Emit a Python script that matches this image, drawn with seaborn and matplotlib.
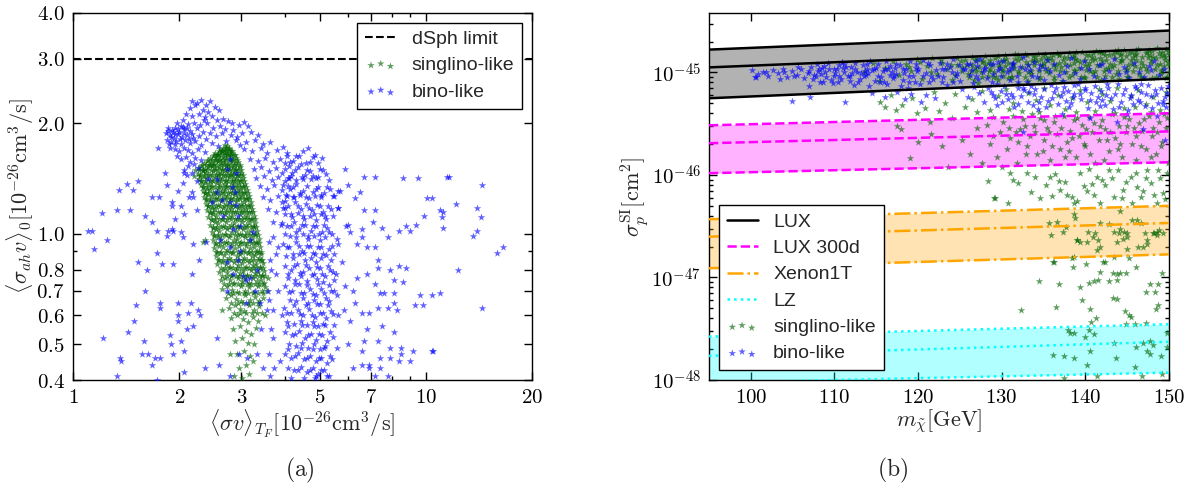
import numpy as np
import matplotlib
matplotlib.use("Agg")
import matplotlib.pyplot as plt
import seaborn as sns
from matplotlib.ticker import FixedLocator, FuncFormatter, LogLocator, NullFormatter

# ---------------- panel (a): <sigma v>_TF and <sigma_ah v>_0 in 1e-26 cm^3/s ----------------
dsph_limit = 3.0

singlino_a = [
    (2.69,1.75),(2.73,1.735),(2.76,1.72),(2.71,1.72),
    (2.61,1.70),(2.66,1.71),(2.70,1.69),(2.77,1.70),(2.81,1.685),(2.64,1.68),
    (2.53,1.66),(2.58,1.65),(2.63,1.67),(2.69,1.66),(2.74,1.65),(2.80,1.665),(2.86,1.645),(2.56,1.64),
    (2.45,1.61),(2.49,1.63),(2.55,1.62),(2.61,1.60),(2.66,1.62),(2.72,1.61),(2.78,1.63),(2.83,1.60),(2.89,1.61),(2.52,1.59),
    (2.35,1.56),(2.40,1.58),(2.46,1.57),(2.51,1.55),(2.57,1.58),(2.62,1.56),(2.68,1.57),(2.75,1.55),(2.80,1.58),(2.87,1.56),(2.93,1.57),(2.43,1.545),
    (2.27,1.51),(2.31,1.53),(2.37,1.50),(2.42,1.52),(2.48,1.53),(2.53,1.51),(2.60,1.52),(2.65,1.50),(2.71,1.53),(2.77,1.51),(2.84,1.52),(2.90,1.50),(2.97,1.52),(2.34,1.49),
    (2.26,1.46),(2.33,1.48),(2.38,1.47),(2.45,1.45),(2.50,1.48),(2.57,1.46),(2.62,1.47),(2.69,1.45),(2.74,1.48),(2.81,1.46),(2.86,1.47),(2.94,1.45),(3.00,1.47),(2.29,1.44),
    (2.28,1.41),(2.35,1.43),(2.40,1.42),(2.47,1.40),(2.52,1.43),(2.59,1.41),(2.65,1.42),(2.72,1.40),(2.77,1.43),(2.85,1.41),(2.90,1.42),(2.98,1.40),(3.04,1.42),(2.31,1.39),
    (2.30,1.36),(2.37,1.38),(2.43,1.37),(2.48,1.35),(2.56,1.38),(2.61,1.36),(2.69,1.37),(2.74,1.35),(2.82,1.38),(2.88,1.36),(2.95,1.37),(3.03,1.35),(3.08,1.37),(2.34,1.34),
    (2.33,1.31),(2.40,1.33),(2.45,1.32),(2.52,1.30),(2.57,1.33),(2.65,1.31),(2.70,1.32),(2.78,1.30),(2.84,1.33),(2.92,1.31),(2.98,1.32),(3.06,1.30),(3.12,1.32),(2.37,1.29),
    (2.35,1.26),(2.42,1.28),(2.47,1.27),(2.55,1.25),(2.60,1.28),(2.68,1.26),(2.73,1.27),(2.81,1.25),(2.87,1.28),(2.95,1.26),(3.01,1.27),(3.10,1.25),(3.15,1.27),(2.39,1.24),
    (2.38,1.21),(2.45,1.23),(2.50,1.22),(2.58,1.20),(2.63,1.23),(2.71,1.21),(2.76,1.22),(2.85,1.20),(2.90,1.23),(2.99,1.21),(3.05,1.22),(3.13,1.20),(3.19,1.22),(2.42,1.19),
    (2.40,1.16),(2.48,1.18),(2.53,1.17),(2.61,1.15),(2.66,1.18),(2.74,1.16),(2.80,1.17),(2.88,1.15),(2.94,1.18),(3.02,1.16),(3.09,1.17),(3.16,1.15),(3.22,1.17),(2.44,1.14),
    (2.42,1.11),(2.50,1.13),(2.55,1.12),(2.64,1.10),(2.69,1.13),(2.77,1.11),(2.83,1.12),(2.91,1.10),(2.97,1.13),(3.06,1.11),(3.12,1.12),(3.20,1.10),(3.26,1.12),(2.47,1.09),
    (2.45,1.06),(2.52,1.08),(2.58,1.07),(2.66,1.05),(2.72,1.08),(2.80,1.06),(2.86,1.07),(2.94,1.05),(3.01,1.08),(3.09,1.06),(3.15,1.07),(3.23,1.05),(3.29,1.07),(2.49,1.04),
    (2.47,1.01),(2.55,1.03),(2.60,1.02),(2.69,1.00),(2.74,1.03),(2.83,1.01),(2.89,1.02),(2.97,1.00),(3.04,1.03),(3.12,1.01),(3.19,1.02),(3.27,1.00),(3.33,1.02),(2.51,0.99),
    (2.49,0.96),(2.57,0.98),(2.63,0.97),(2.71,0.95),(2.77,0.98),(2.86,0.96),(2.92,0.97),(3.00,0.95),(3.07,0.98),(3.15,0.96),(3.22,0.97),(3.30,0.95),(3.36,0.97),(2.53,0.94),
    (2.51,0.915),(2.59,0.93),(2.66,0.92),(2.73,0.905),(2.80,0.93),(2.88,0.915),(2.95,0.925),(3.03,0.905),(3.10,0.93),(3.18,0.915),(3.25,0.92),(3.33,0.90),(3.39,0.92),(2.55,0.895),
    (2.54,0.87),(2.61,0.885),(2.68,0.875),(2.76,0.86),(2.83,0.885),(2.91,0.87),(2.98,0.88),(3.06,0.86),(3.13,0.885),(3.21,0.87),(3.28,0.875),(3.36,0.86),(3.42,0.88),(2.58,0.85),
    (2.56,0.83),(2.64,0.84),(2.71,0.83),(2.79,0.815),(2.86,0.84),(2.94,0.825),(3.01,0.835),(3.09,0.815),(3.16,0.84),(3.24,0.825),(3.31,0.83),(3.39,0.815),(3.45,0.835),
    (2.59,0.79),(2.67,0.80),(2.74,0.79),(2.82,0.775),(2.89,0.80),(2.97,0.785),(3.04,0.795),(3.12,0.775),(3.19,0.80),(3.27,0.785),(3.35,0.79),(3.43,0.775),(3.48,0.795),
    (2.62,0.75),(2.70,0.76),(2.78,0.75),(2.86,0.735),(2.93,0.76),(3.01,0.745),(3.08,0.755),(3.16,0.735),(3.24,0.76),(3.32,0.745),(3.40,0.75),(3.48,0.735),
    (2.65,0.71),(2.74,0.72),(2.83,0.705),(2.91,0.695),(2.99,0.72),(3.08,0.70),(3.16,0.715),(3.25,0.695),(3.34,0.72),(3.43,0.70),(3.51,0.715),
    (2.71,0.67),(2.81,0.68),(2.90,0.665),(2.99,0.655),(3.08,0.68),(3.18,0.66),(3.27,0.675),(3.37,0.655),(3.46,0.67),
    (2.76,0.63),(2.87,0.64),(2.97,0.625),(3.06,0.615),(3.16,0.64),(3.26,0.62),(3.37,0.635),(3.44,0.61),
    (2.80,0.59),(2.92,0.60),(3.03,0.585),(3.13,0.575),(3.24,0.595),(3.35,0.58),
    (2.84,0.55),(2.97,0.56),(3.09,0.545),(3.20,0.535),(3.31,0.555),
    (2.88,0.51),(3.01,0.52),(3.13,0.505),(3.26,0.50),
    (2.92,0.47),(3.05,0.48),(3.17,0.465),(3.23,0.45),
    (2.96,0.43),(3.09,0.44),(3.15,0.415),(3.01,0.405),
    (2.37,0.96),(2.33,0.95),(2.22,1.49),(2.20,1.44),(3.55,0.70),(3.57,0.76),(2.64,0.62),(3.50,0.60),(2.79,0.47),(2.86,0.41),
]

# dense core of the singlino cloud, one entry per level of <sigma_ah v>_0
singlino_a_core = [
    (1.68, [2.59, 2.65, 2.71, 2.77, 2.82]),
    (1.64, [2.51, 2.57, 2.63, 2.69, 2.75, 2.81, 2.87]),
    (1.595, [2.42, 2.48, 2.54, 2.60, 2.66, 2.72, 2.78, 2.84, 2.91]),
    (1.545, [2.32, 2.38, 2.44, 2.50, 2.56, 2.62, 2.68, 2.74, 2.80, 2.86, 2.92, 2.97]),
    (1.495, [2.28, 2.34, 2.40, 2.46, 2.52, 2.58, 2.64, 2.70, 2.76, 2.82, 2.88, 2.94, 3.00]),
    (1.445, [2.29, 2.35, 2.42, 2.48, 2.54, 2.60, 2.66, 2.73, 2.79, 2.85, 2.91, 2.97, 3.03]),
    (1.395, [2.31, 2.37, 2.44, 2.50, 2.56, 2.63, 2.69, 2.75, 2.82, 2.88, 2.94, 3.00, 3.06]),
    (1.345, [2.33, 2.40, 2.46, 2.53, 2.59, 2.66, 2.72, 2.79, 2.85, 2.92, 2.98, 3.04, 3.09]),
    (1.295, [2.36, 2.42, 2.49, 2.55, 2.62, 2.68, 2.75, 2.82, 2.88, 2.95, 3.01, 3.08, 3.13]),
    (1.245, [2.39, 2.45, 2.52, 2.58, 2.65, 2.72, 2.78, 2.85, 2.92, 2.98, 3.05, 3.11, 3.16]),
    (1.195, [2.41, 2.48, 2.54, 2.61, 2.68, 2.75, 2.81, 2.88, 2.95, 3.02, 3.08, 3.15, 3.20]),
    (1.145, [2.44, 2.50, 2.57, 2.64, 2.71, 2.78, 2.85, 2.92, 2.99, 3.05, 3.12, 3.19, 3.24]),
    (1.095, [2.46, 2.53, 2.60, 2.67, 2.74, 2.81, 2.88, 2.95, 3.02, 3.09, 3.16, 3.22, 3.27]),
    (1.045, [2.49, 2.56, 2.63, 2.70, 2.77, 2.84, 2.91, 2.98, 3.05, 3.12, 3.19, 3.26, 3.31]),
    (0.995, [2.51, 2.58, 2.65, 2.72, 2.79, 2.87, 2.94, 3.01, 3.08, 3.15, 3.22, 3.29, 3.34]),
    (0.945, [2.54, 2.61, 2.68, 2.75, 2.83, 2.90, 2.97, 3.05, 3.12, 3.19, 3.26, 3.33, 3.37]),
    (0.895, [2.56, 2.63, 2.71, 2.78, 2.85, 2.93, 3.00, 3.08, 3.15, 3.22, 3.30, 3.37, 3.41]),
    (0.85, [2.59, 2.66, 2.74, 2.81, 2.89, 2.96, 3.04, 3.11, 3.19, 3.26, 3.34, 3.41, 3.44]),
    (0.81, [2.62, 2.70, 2.77, 2.85, 2.92, 3.00, 3.08, 3.15, 3.23, 3.31, 3.38, 3.46]),
    (0.77, [2.65, 2.73, 2.81, 2.89, 2.96, 3.04, 3.12, 3.20, 3.28, 3.36, 3.44, 3.49]),
    (0.73, [2.68, 2.77, 2.85, 2.94, 3.02, 3.11, 3.20, 3.29, 3.37, 3.46]),
    (0.69, [2.75, 2.85, 2.95, 3.05, 3.14, 3.24, 3.35, 3.45]),
    (0.65, [2.81, 2.93, 3.03, 3.13, 3.23, 3.34]),
    (0.61, [2.86, 2.98, 3.10, 3.22, 3.32]),
]

bino_a_cluster = [
    (2.18,2.31),(2.25,2.28),(2.30,2.32),(2.45,2.30),(2.38,2.24),(2.21,2.24),(2.14,2.20),(2.52,2.22),(2.60,2.17),(2.33,2.18),
    (2.42,2.15),(2.09,2.12),(2.27,2.12),(2.17,2.10),(2.05,2.05),(2.36,2.08),(2.48,2.10),(2.56,2.04),(2.66,2.06),(2.75,2.03),
    (2.82,2.00),(2.95,1.98),(3.05,2.02),(3.14,1.97),(1.97,2.00),(2.02,1.97),(2.12,1.99),(2.20,2.01),(2.29,1.98),(2.40,2.00),
    (2.50,1.95),(2.61,1.97),(2.70,1.93),(1.86,1.94),(1.91,1.92),(1.95,1.95),(2.00,1.90),(2.07,1.93),(2.15,1.91),(2.24,1.94),
    (2.33,1.90),(2.45,1.88),(2.55,1.85),(2.64,1.88),(2.80,1.86),(2.92,1.84),(1.83,1.88),(1.88,1.86),(1.93,1.83),(1.98,1.87),
    (2.04,1.84),(2.10,1.86),(2.19,1.83),(2.28,1.85),(2.38,1.81),(1.85,1.80),(1.90,1.78),(1.96,1.79),(2.02,1.76),(2.08,1.80),
    (2.14,1.77),(2.22,1.79),(2.31,1.75),(2.47,1.77),(2.58,1.74),(2.72,1.79),(2.98,1.75),(1.88,1.72),(1.94,1.70),(2.00,1.68),
    (2.06,1.72),(2.12,1.69),(2.18,1.66),(2.26,1.70),(2.36,1.67),(1.97,1.63),(2.03,1.60),(2.09,1.62),(2.15,1.57),(2.21,1.61),
    (2.30,1.59),(2.12,1.53),(2.20,1.55),(2.26,1.51),(2.07,1.49),(2.17,1.47),(1.87,1.76),(1.92,1.89),(2.05,1.96),(2.35,2.04),
    (1.89,1.84),(1.95,1.87),(2.01,1.82),(2.07,1.88),(2.13,1.82),(1.86,1.91),(1.99,1.93),(2.10,1.95),(2.17,1.87),(1.94,1.76),
]

bino_a_arm = [
    (2.85,1.92),(3.02,1.88),(3.20,1.90),(3.35,1.86),(2.90,1.80),(3.10,1.78),(3.28,1.80),(3.45,1.76),(3.62,1.78),(3.05,1.70),
    (3.22,1.68),(3.40,1.71),(3.55,1.66),(3.78,1.69),(3.95,1.73),(3.18,1.60),(3.34,1.58),(3.50,1.61),(3.68,1.57),(3.85,1.60),
    (4.05,1.63),(3.25,1.50),(3.42,1.52),(3.60,1.48),(3.75,1.51),(3.92,1.47),(4.10,1.53),(3.30,1.42),(3.48,1.44),(3.66,1.40),
    (3.82,1.43),(3.98,1.39),(4.15,1.44),(3.38,1.35),(3.55,1.33),(3.72,1.36),(3.90,1.32),(4.08,1.35),(3.45,1.26),(3.62,1.24),
    (3.80,1.27),(3.98,1.23),(4.20,1.26),(3.58,1.17),(3.75,1.15),(3.93,1.18),(3.70,1.08),(3.88,1.06),(3.68,0.98),(3.82,0.92),
    (3.62,0.85),(3.75,0.78),(3.58,0.70),(3.70,0.62),(3.65,0.55),(3.60,0.47),(3.72,0.43),(3.60,0.95),(3.75,0.88),(3.55,0.62),
    (3.70,0.52),(3.85,0.45),(3.62,0.41),(3.80,0.70),(3.90,0.60),(3.65,0.80),(3.32,0.47),(3.45,0.43),(3.40,0.55),(3.60,0.66),
]

bino_a_dense = [
    (4.05,1.66),(4.30,1.63),(4.50,1.68),(4.65,1.71),(4.85,1.64),(5.07,1.61),(4.20,1.58),(4.42,1.55),(4.70,1.57),(4.95,1.56),(3.98,1.56),
    (4.00,1.50),(4.18,1.47),(4.35,1.52),(4.55,1.45),(4.62,1.49),(4.80,1.44),(5.00,1.50),(5.20,1.46),(4.10,1.42),(4.28,1.40),(4.45,1.43),(4.72,1.41),(4.90,1.42),(5.30,1.40),
    (3.95,1.36),(4.12,1.33),(4.30,1.37),(4.48,1.31),(4.60,1.35),(4.78,1.30),(4.95,1.34),(5.15,1.29),(5.35,1.33),(5.65,1.31),(4.05,1.27),(4.22,1.26),(4.40,1.28),(4.66,1.25),(4.85,1.27),(5.05,1.26),(5.50,1.27),
    (3.92,1.22),(4.08,1.19),(4.25,1.22),(4.42,1.17),(4.58,1.21),(4.75,1.16),(4.92,1.20),(5.10,1.15),(5.28,1.19),(5.62,1.18),(4.00,1.13),(4.18,1.11),(4.35,1.14),(4.52,1.10),(4.70,1.12),(4.88,1.09),(5.05,1.13),(5.22,1.10),(5.45,1.12),
    (3.90,1.07),(4.05,1.05),(4.22,1.08),(4.38,1.03),(4.55,1.06),(4.72,1.02),(4.90,1.05),(5.08,1.01),(5.25,1.04),(5.42,1.00),(5.95,1.05),(4.12,0.99),(4.30,0.98),(4.48,1.00),(4.65,0.97),(4.82,0.99),(5.00,0.96),(5.18,0.98),(5.60,0.97),
    (3.95,0.94),(4.10,0.92),(4.28,0.95),(4.45,0.90),(4.60,0.93),(4.78,0.89),(4.95,0.92),(5.12,0.88),(5.30,0.91),(5.50,0.88),(5.65,0.94),(4.02,0.87),(4.20,0.86),(4.38,0.88),(4.55,0.85),(4.72,0.86),(4.88,0.84),(5.05,0.86),(5.40,0.85),
    (3.98,0.82),(4.15,0.80),(4.32,0.83),(4.50,0.79),(4.66,0.81),(4.83,0.78),(5.00,0.81),(5.18,0.77),(5.35,0.80),(5.55,0.78),(4.08,0.76),(4.25,0.75),(4.42,0.77),(4.60,0.745),(4.92,0.755),(5.10,0.74),(5.48,0.75),
    (4.00,0.72),(4.18,0.70),(4.36,0.73),(4.53,0.69),(4.70,0.71),(4.87,0.68),(5.05,0.71),(5.22,0.67),(5.40,0.70),(5.60,0.68),(4.12,0.66),(4.30,0.655),(4.48,0.67),(4.65,0.65),(4.82,0.66),(5.00,0.645),(5.30,0.655),
    (3.96,0.63),(4.14,0.61),(4.33,0.62),(4.50,0.60),(4.68,0.625),(4.85,0.595),(5.02,0.61),(5.20,0.59),(5.38,0.615),(5.62,0.60),(4.05,0.575),(4.24,0.57),(4.42,0.58),(4.60,0.565),(4.78,0.575),(4.95,0.56),(5.12,0.57),(5.50,0.565),
    (4.00,0.54),(4.18,0.53),(4.36,0.545),(4.55,0.52),(4.72,0.535),(4.90,0.515),(5.08,0.53),(5.26,0.51),(5.45,0.525),(4.10,0.50),(4.28,0.495),(4.46,0.505),(4.64,0.49),(4.82,0.50),(5.00,0.485),(5.18,0.495),(5.60,0.49),
    (3.98,0.47),(4.15,0.46),(4.33,0.475),(4.52,0.455),(4.70,0.465),(4.88,0.45),(5.05,0.46),(5.24,0.445),(5.42,0.455),(4.06,0.43),(4.24,0.425),(4.42,0.435),(4.60,0.42),(4.78,0.43),(4.96,0.415),(5.14,0.425),(5.33,0.41),(4.85,0.405),
    (4.12,1.57),(4.38,1.63),(4.58,1.56),(4.80,1.62),
    (4.08,1.42),(4.26,1.49),(4.48,1.41),(4.70,1.48),(4.95,1.43),(5.12,1.49),
    (4.02,1.28),(4.21,1.34),(4.40,1.29),(4.57,1.26),(4.88,1.33),(5.05,1.28),(5.25,1.34),(5.45,1.27),
    (3.98,1.18),(4.16,1.13),(4.33,1.19),(4.50,1.12),(4.66,1.18),(4.83,1.13),(5.00,1.19),(5.18,1.12),(5.38,1.17),
    (3.98,1.00),(4.14,1.05),(4.30,1.01),(4.46,1.06),(4.63,0.99),(4.80,1.05),(4.97,1.00),(5.15,1.06),(5.33,1.01),
    (4.04,0.92),(4.19,0.88),(4.36,0.93),(4.52,0.89),(4.69,0.925),(4.86,0.88),(5.03,0.92),(5.21,0.875),(5.42,0.93),
    (4.06,0.78),(4.24,0.82),(4.41,0.785),(4.58,0.825),(4.75,0.775),(4.92,0.815),(5.09,0.78),(5.27,0.82),(5.45,0.79),
    (4.09,0.695),(4.27,0.73),(4.44,0.69),(4.61,0.725),(4.78,0.685),(4.95,0.73),(5.13,0.69),(5.31,0.725),(5.50,0.70),
    (4.05,0.61),(4.23,0.64),(4.41,0.605),(4.59,0.64),(4.76,0.60),(4.93,0.645),(5.11,0.61),(5.29,0.64),(5.47,0.605),
    (4.08,0.56),(4.26,0.535),(4.45,0.565),(4.63,0.53),(4.81,0.56),(4.99,0.535),(5.17,0.565),(5.36,0.54),
    (4.07,0.485),(4.25,0.465),(4.43,0.49),(4.61,0.46),(4.79,0.485),(4.97,0.46),(5.15,0.49),(5.34,0.465),
    (4.15,0.405),(4.33,0.425),(4.51,0.405),(4.69,0.425),(4.87,0.41),(5.05,0.425),(5.24,0.41),
]

bino_a_right = [
    (6.7,1.43),(8.6,1.42),(11.6,1.43),(14.4,1.36),(10.1,1.25),(12.2,1.21),(14.0,1.18),(11.2,1.15),(14.3,1.11),(14.0,1.02),
    (13.6,0.99),(11.2,1.04),(8.8,1.05),(8.4,1.02),(7.1,1.08),(6.5,1.30),(6.7,1.16),(6.6,1.03),(16.5,0.92),(15.9,0.89),
    (12.3,0.80),(11.0,0.69),(14.4,0.63),(9.6,0.68),(9.3,0.64),(10.4,0.48),(8.5,0.47),(8.4,0.45),(8.4,0.82),(8.1,0.75),
    (7.6,0.69),(7.3,0.63),(7.2,0.92),(7.3,0.81),(7.9,0.49),(7.4,0.46),(7.2,0.41),(6.9,0.43),(6.6,0.44),(6.6,0.98),
    (5.7,1.31),(5.65,1.18),(6.0,1.06),(6.1,1.01),(6.4,0.94),(6.8,0.92),(7.2,1.16),(7.5,1.04),(7.8,0.98),(7.3,0.85),
    (7.9,0.80),(6.8,0.78),(6.4,0.76),(6.2,0.70),(7.2,0.73),(7.4,0.69),(8.1,0.69),(8.3,0.62),(7.8,0.63),(6.9,0.61),
    (6.6,0.61),(6.3,0.65),(6.1,0.58),(6.8,0.55),(7.5,0.56),(8.1,0.54),(6.7,0.51),(7.3,0.51),(6.6,0.48),(7.9,0.46),
    (6.9,0.44),(7.4,0.43),(7.8,0.41),(8.5,0.49),(9.0,0.45),(9.2,0.48),(8.6,0.74),(8.8,0.81),(8.1,0.65),(9.0,1.02),
    (9.4,1.06),(9.5,1.42),(7.2,1.43),(10.4,1.25),(9.9,1.12),(11.0,1.16),(11.1,1.11),(11.5,1.43),(9.8,0.64),(10.4,0.68),
    (10.5,0.48),(6.0,1.36),(5.9,1.50),(6.3,1.25),(5.8,0.84),(5.9,0.72),(6.0,0.50),(5.85,0.62),(6.2,0.43),
]

bino_a_left = [
    (1.13,1.02),(1.15,0.91),(1.25,0.96),(1.53,0.84),(1.62,0.80),(1.73,0.89),(1.79,0.83),(1.92,0.83),(1.85,0.99),(1.92,1.02),
    (2.05,0.98),(2.19,0.94),(2.17,0.78),(2.28,0.85),(1.60,0.70),(1.51,0.64),(1.49,0.58),(1.43,0.54),(1.22,0.52),(1.36,0.46),
    (1.37,0.45),(1.33,0.41),(1.59,0.51),(1.57,0.47),(1.63,0.47),(1.71,0.46),(1.67,0.44),(1.77,0.65),(1.77,0.63),(1.99,0.65),
    (1.99,0.60),(1.98,0.58),(2.12,0.61),(2.16,0.65),(2.26,0.62),(2.29,0.60),(2.19,0.56),(2.10,0.55),(1.88,0.53),(1.89,0.50),
    (2.02,0.51),(2.06,0.48),(1.92,0.47),(1.76,0.46),(2.06,0.42),(1.73,0.40),(2.37,0.43),(2.60,0.44),(2.79,0.41),(2.95,0.47),
    (3.12,0.46),(2.56,0.52),(2.38,0.95),(1.35,1.32),(1.42,1.37),(1.48,1.32),(1.53,1.39),(1.68,1.26),(1.75,1.26),(1.82,1.47),
    (1.60,1.12),(1.45,1.16),(1.33,1.16),(1.21,1.14),(1.91,1.22),(1.95,1.10),(2.07,1.13),(2.03,1.01),(1.91,1.03),(1.73,1.02),
    (1.68,1.08),(2.10,1.45),(2.06,1.47),(2.25,1.39),(2.18,1.30),(2.25,1.16),(1.74,1.72),(1.10,1.02),(1.85,1.36),(1.98,1.31),
    (1.91,1.19),(2.03,1.19),(2.13,1.26),(2.05,1.38),(2.19,1.26),(1.86,1.02),
]

bino_a_over = [
    (2.56,1.41),(2.73,1.50),(2.87,1.30),(2.64,1.24),(2.90,1.20),(2.47,1.22),(2.84,1.03),(2.97,1.05),(3.17,0.96),(2.79,0.92),
    (2.61,0.96),(2.93,0.85),(2.73,0.84),(3.17,0.76),(3.28,0.70),(3.10,0.75),(2.84,0.78),(3.39,0.65),(2.97,0.90),(2.82,1.34),
    (2.93,1.12),(2.66,1.12),(3.24,1.01),(2.56,1.30),(2.79,1.22),(2.41,1.41),(3.03,0.77),(3.32,0.80),(2.73,0.70),(3.10,0.65),
    (2.90,1.47),(2.79,1.60),
]

# ---------------- panel (b): m_chi [GeV] and sigma_p^SI in units of 1e-46 cm^2 ----------------
SIGMA_UNIT = 1e-46
band_mass = [95, 150]
lux_low, lux_mid, lux_high = [5.6, 8.7], [11.2, 17.1], [16.7, 25.6]
lux300_low, lux300_mid, lux300_high = [1.04, 1.33], [2.04, 2.66], [3.05, 4.0]
xenon_low, xenon_mid, xenon_high = [0.123, 0.168], [0.25, 0.34], [0.37, 0.50]
lz_low, lz_mid, lz_high = [0.0094, 0.0118], [0.0172, 0.0236], [0.0265, 0.035]

bino_b = [
    (100.2,10.5),(100.9,9.6),(101.5,10.2),(102.1,9.3),(102.6,10.6),(103.2,9.8),(103.8,10.9),(104.3,9.1),(104.9,10.3),(105.5,9.5),
    (106.0,10.8),(106.4,8.8),(100.6,9.0),(103.5,8.6),(100.5,9.1),(104.9,5.3),(107.1,5.7),(111.3,5.2),
    (107.2,11.2),(107.6,9.4),(108.0,10.3),(108.3,8.1),(108.7,11.6),(109.0,9.0),(109.4,10.7),(109.8,7.9),(110.1,9.8),(110.5,11.9),
    (110.8,8.6),(111.2,10.2),(111.6,9.2),(112.0,11.4),(112.3,7.6),(112.7,10.0),(113.0,8.7),(113.4,11.8),(113.8,9.5),(114.1,7.4),
    (114.5,10.6),(114.8,8.2),(115.2,12.0),(115.6,9.1),(116.0,10.9),(116.3,7.8),(116.7,11.5),(117.0,8.9),(107.9,12.1),(109.2,12.4),
    (110.9,12.6),(112.5,12.5),(114.3,12.9),(116.2,12.8),(108.4,9.7),(110.3,10.8),(111.9,8.3),(113.6,10.4),(115.4,8.0),(116.9,10.1),
    (107.4,8.6),(109.6,8.4),(111.4,11.3),(113.2,9.8),(115.0,11.1),(106.8,9.9),(105.6,11.3),(106.9,7.3),
    (114.5,6.3),(116.0,5.8),(117.5,6.5),(118.4,5.5),(119.2,6.2),(120.3,5.2),(121.0,6.0),(122.0,5.6),(118.8,7.0),
    (117.4,9.6),(117.8,11.9),(118.2,8.4),(118.6,10.7),(119.0,12.8),(119.4,9.2),(119.8,11.1),(120.2,7.8),(120.6,13.1),(121.0,9.9),
    (121.4,11.8),(121.8,8.6),(122.2,10.5),(122.6,12.5),(123.0,9.1),(123.4,7.6),(123.8,11.3),(124.2,13.4),(124.6,9.8),(125.0,8.2),
    (125.4,10.9),(125.8,12.1),(126.2,9.4),(126.6,7.9),(127.0,11.5),(127.4,13.6),(127.8,10.2),(128.2,8.8),(128.6,12.0),(129.0,9.6),
    (129.4,7.7),(129.8,11.0),(130.2,13.0),(130.6,10.0),(131.0,8.5),(131.4,12.4),(131.8,9.3),(132.2,11.4),(132.6,14.0),(133.0,8.1),
    (133.4,10.6),(133.8,12.6),(134.2,9.0),(134.6,11.7),(135.0,8.4),(135.4,13.3),(135.8,10.4),(136.3,12.2),(136.8,9.5),(137.3,8.3),
    (137.8,11.6),(138.3,13.8),(138.8,9.9),(139.3,8.6),(139.8,12.8),(140.4,10.8),(141.0,9.2),(141.6,11.9),(142.2,8.7),(142.8,10.3),
    (143.4,13.5),(144.0,9.6),(144.6,11.2),(145.2,8.9),(145.8,12.4),(146.4,10.1),(147.0,9.0),(147.6,11.5),(148.2,13.0),(148.8,9.4),
    (149.4,10.7),(118.0,7.4),(121.2,12.3),(124.0,10.2),(126.9,12.9),(129.6,12.7),(132.8,10.9),(119.6,8.0),(122.8,8.0),(127.2,8.6),
    (101.8,10.0),(104.0,10.1),(105.2,9.2),(107.0,10.4),(108.9,10.0),(110.6,9.3),(112.1,9.9),(113.9,10.9),(115.8,10.3),(117.2,11.0),
    (118.3,9.9),(119.9,10.4),(121.5,9.3),(123.2,10.7),(124.9,11.8),(126.4,10.6),(128.0,11.1),(129.5,10.5),(131.2,11.0),(133.2,11.8),
    (135.2,11.0),(137.5,10.2),(139.5,11.0),(142.0,12.0),(144.9,10.0),(147.9,10.6),(108.5,11.0),(111.0,11.0),(114.0,9.9),(116.6,9.5),
    (125.3,6.9),(126.0,5.8),(126.7,7.2),(127.3,6.3),(127.9,5.2),(128.4,7.0),(128.9,6.0),(129.4,4.8),(129.9,6.6),(130.3,7.3),
    (130.7,5.5),(131.1,6.2),(131.5,4.6),(131.9,7.1),(132.3,5.9),(132.7,6.8),(133.1,5.1),(133.5,7.4),(133.9,6.1),(134.3,4.4),
    (134.7,5.7),(135.1,6.9),(135.5,5.3),(135.9,7.6),(136.3,6.4),(136.7,4.9),(137.1,5.9),(137.5,7.2),(137.9,6.6),(138.3,5.0),
    (138.7,6.1),(139.1,7.7),(139.5,5.5),(139.9,6.8),(140.3,4.5),(140.7,6.3),(141.1,7.4),(141.5,5.8),(141.9,6.6),(142.3,4.8),
    (142.7,7.0),(143.1,5.6),(143.5,6.2),(143.9,7.8),(144.3,5.2),(144.7,6.9),(145.1,4.3),(145.5,6.0),(145.9,7.3),(146.3,5.4),
    (146.7,6.5),(147.1,4.7),(147.5,7.5),(147.9,5.9),(148.3,6.7),(148.7,5.0),(149.1,7.1),(149.5,5.7),(149.8,6.3),(130.0,5.2),
    (132.0,4.9),(134.0,6.9),(136.0,5.6),(138.0,4.6),(140.0,7.0),(142.0,5.4),(144.0,4.6),(146.0,7.0),(148.0,4.5),(149.6,4.6),
    (131.3,5.8),(133.3,6.4),(135.3,4.6),(137.3,6.4),(139.3,6.2),(141.3,5.1),(143.3,4.4),(145.3,5.6),(147.3,6.1),(149.3,5.3),
    (138.6,7.6),(142.6,7.7),(146.6,7.7),(129.2,5.6),(128.7,6.5),(130.5,6.1),(132.5,7.0),(134.5,5.2),(136.5,7.0),(138.5,5.8),
    (140.5,5.4),(142.5,6.0),(144.5,6.2),(146.5,5.1),(148.5,6.2),(149.9,7.3),(133.7,4.8),(137.7,5.3),(141.7,4.7),(145.7,4.9),
    (149.3,4.9),
    (140.6,3.6),(143.8,3.3),(146.9,2.8),(148.6,3.8),(149.5,2.2),(137.2,3.9),(145.0,3.9),(132.5,2.6),
]

# bino points filling the LUX band, one entry per cross-section level
bino_b_core = [
    (8.0, [108.6, 110.4, 112.8, 115.9, 118.9, 121.3, 124.2, 128.8, 131.9]),
    (9.3, [107.8, 109.9, 111.8, 113.5, 115.2, 117.1, 118.9, 120.6, 122.4, 124.5, 126.9, 129.9, 133.6]),
    (10.8, [108.2, 110.0, 112.4, 114.7, 116.4, 118.2, 120.0, 122.9, 125.6, 127.9, 130.9, 134.4]),
    (12.2, [111.2, 113.9, 117.4, 119.8, 123.4, 126.2, 129.0, 131.2]),
]

singlino_b_top = [
    (113.5,10.2),(114.6,12.4),(115.3,8.3),(116.1,11.0),(117.0,13.0),(117.7,9.4),(118.5,12.0),(119.1,10.3),(119.9,13.5),(120.5,8.7),
    (121.1,11.6),(121.7,13.7),(122.3,9.6),(122.9,12.3),(123.5,10.9),(124.1,8.5),(124.7,13.9),(125.3,11.4),
    (125.6,13.2),(126.0,9.6),(126.4,14.3),(126.8,11.0),(127.2,7.9),(127.6,12.6),(128.0,14.6),(128.4,9.3),(128.8,11.8),(129.2,13.9),
    (129.6,8.5),(130.0,10.6),(130.4,14.8),(130.8,12.3),(131.2,9.1),(131.6,13.4),(132.0,7.8),(132.4,11.2),(132.8,15.0),(133.2,10.1),
    (133.6,12.9),(134.0,14.2),(134.4,8.7),(134.8,11.6),(135.2,15.3),(135.6,9.8),(136.0,13.1),(136.4,10.7),(136.8,14.7),(137.2,8.3),
    (137.6,12.0),(138.0,15.5),(138.4,9.5),(138.8,13.5),(139.2,11.1),(139.6,15.8),(140.0,8.9),(140.4,12.5),(140.8,14.3),(141.2,10.3),
    (141.6,16.0),(142.0,12.9),(142.4,9.2),(142.8,14.9),(143.2,11.4),(143.6,16.2),(144.0,8.6),(144.4,13.3),(144.8,10.6),(145.2,15.4),
    (145.6,12.2),(146.0,16.5),(146.4,9.7),(146.8,14.0),(147.2,11.1),(147.6,16.7),(148.0,8.9),(148.4,13.7),(148.8,15.6),(149.2,10.5),
    (149.6,16.9),(149.9,12.6),
    (125.9,11.9),(126.7,8.4),(127.5,10.2),(128.3,12.4),(129.1,10.0),(129.9,12.8),(130.7,8.8),(131.5,11.0),(132.3,13.8),(133.1,8.3),
    (133.9,11.9),(134.7,13.6),(135.5,10.9),(136.3,8.5),(137.1,11.3),(137.9,13.9),(138.7,10.5),(139.5,9.0),(140.3,11.6),(141.1,13.4),
    (141.9,8.4),(142.7,11.1),(143.5,13.8),(144.3,15.1),(145.1,9.0),(145.9,11.6),(146.7,12.6),(147.5,14.3),(148.3,10.9),(149.1,14.6),
    (149.7,8.8),(127.0,13.5),(129.5,14.4),(131.9,14.9),(134.3,15.1),(136.6,15.6),(138.9,15.9),(141.3,16.2),(143.9,16.6),(146.3,16.9),
    (148.6,17.2),(128.6,10.8),(131.0,10.4),(133.5,9.6),(136.1,11.9),(138.6,12.3),(140.9,9.8),(143.0,12.0),(145.4,13.1),(147.8,12.3),
    (149.4,11.6),(130.1,9.3),(135.0,12.3),(140.1,14.8),(145.0,10.8),(150.0,15.0),
    (118.9,11.4),(120.2,12.6),(121.5,10.1),(122.7,13.2),(123.9,11.7),(124.4,9.4),(125.1,12.8),(126.3,10.4),(127.8,13.0),(128.9,9.0),
    (129.7,11.3),(130.5,13.6),(131.3,12.0),(132.1,9.9),(132.9,12.6),(133.7,14.5),(134.5,10.3),(135.3,13.9),(136.1,14.9),(136.9,12.4),
    (137.7,10.0),(138.5,14.1),(139.3,12.7),(140.1,10.6),(140.9,15.5),(141.7,13.7),(142.5,10.9),(143.3,15.1),(144.1,12.6),(144.9,14.4),
    (145.7,14.2),(146.5,11.0),(147.3,15.6),(148.1,14.0),(148.9,12.0),(149.5,14.0),(150.0,10.0),(131.6,15.2),(135.8,14.1),(139.9,13.2),
    (142.1,15.6),(144.6,16.4),(146.1,15.0),(148.0,16.3),(149.9,16.2),(127.3,11.2),(130.4,11.6),(134.2,12.8),(137.4,14.0),(141.4,11.7),
    (143.7,9.6),(146.9,8.9),(149.0,9.6),
]

# singlino points filling the upper LUX band, one entry per cross-section level
singlino_b_core = [
    (9.0, [126.1, 127.7, 129.3, 131.1, 132.8, 134.6, 136.2, 138.0, 139.8, 141.4, 143.2, 145.0, 146.6, 148.4, 149.8]),
    (10.4, [125.2, 126.9, 128.5, 130.2, 131.9, 133.5, 135.3, 137.0, 138.8, 140.5, 142.2, 143.9, 145.7, 147.4, 149.1]),
    (11.9, [124.6, 126.4, 128.0, 129.7, 131.4, 133.1, 134.8, 136.5, 138.2, 139.9, 141.7, 143.4, 145.1, 146.9, 148.6, 150.0]),
    (13.3, [126.8, 128.6, 130.3, 132.0, 133.8, 135.5, 137.3, 139.0, 140.8, 142.5, 144.3, 146.0, 147.8, 149.5]),
    (14.8, [133.0, 134.9, 136.8, 138.6, 140.4, 142.3, 144.1, 145.9, 147.7, 149.4]),
    (16.0, [141.9, 143.8, 145.6, 147.4, 149.2]),
]

singlino_b_mid = [
    (115.5,5.2),(116.8,6.0),(118.1,4.8),(119.3,5.6),(120.8,4.5),(121.9,6.4),(123.2,5.0),(124.4,6.1),(125.6,4.6),(126.5,5.5),
    (127.6,6.6),(128.6,4.3),(129.5,5.9),(130.5,6.9),(131.4,5.0),(132.4,4.2),(133.2,6.3),(134.1,5.4),(135.0,7.1),(135.8,4.8),
    (136.7,6.0),(137.6,4.4),(138.4,5.6),(139.4,6.7),(140.2,5.1),(141.1,4.2),(142.0,6.1),(142.9,5.3),(143.8,7.0),(144.6,4.5),
    (145.4,5.9),(146.3,6.8),(147.2,4.9),(148.1,5.8),(148.9,4.3),(149.7,6.5),(130.9,4.4),(134.5,4.1),(138.9,4.1),(143.6,4.0),
    (147.8,4.1),(141.6,6.9),(145.9,4.6),(127.0,4.1),(122.5,4.2),(119.9,4.0),(117.3,4.3),(116.0,4.6),
]

singlino_b_band = [
    (117.5,3.0),(118.0,2.8),(119.0,1.45),(121.4,3.3),(121.6,2.5),(122.8,1.9),(124.0,3.6),(125.3,2.2),(126.2,1.6),(127.0,2.9),
    (127.6,1.3),(120.0,2.1),(123.6,1.2),
    (128.2,3.1),(128.6,2.0),(129.0,3.7),(129.4,1.5),(129.8,2.6),(130.2,3.3),(130.6,1.8),(131.0,2.3),(131.4,3.8),(131.8,1.3),
    (132.2,2.8),(132.6,3.5),(133.0,1.9),(133.4,2.4),(133.8,3.0),(134.2,1.6),(134.6,3.6),(135.0,2.2),(135.4,2.9),(135.8,1.4),
    (136.2,3.3),(136.6,2.5),(137.0,1.8),(137.4,3.8),(137.8,2.1),(138.2,2.7),(138.6,3.4),(138.9,1.5),(139.2,2.4),(139.6,3.1),
    (140.0,1.9),(140.4,3.7),(140.8,2.6),(141.2,1.3),(141.6,2.2),(142.0,3.4),(142.4,2.8),(142.8,1.7),(143.2,3.9),(143.6,2.3),
    (144.0,3.0),(144.4,1.5),(144.8,2.6),(145.2,3.5),(145.6,2.0),(146.0,1.4),(146.4,3.2),(146.8,2.7),(147.2,1.8),(147.6,3.8),
    (148.0,2.4),(148.4,1.6),(148.8,3.3),(149.2,2.1),(149.6,2.9),(149.9,1.3),
    (128.9,2.4),(130.0,1.2),(130.9,2.9),(132.0,2.1),(132.9,1.6),(134.0,2.6),(135.1,3.4),(136.0,1.9),(137.1,2.9),(138.0,1.7),
    (139.0,3.6),(140.1,2.8),(141.0,3.2),(142.2,1.4),(143.0,2.6),(144.1,2.0),(145.0,3.0),(146.1,2.4),(147.0,3.5),(148.1,2.9),
    (149.0,1.9),(149.8,3.6),(131.7,2.6),(133.6,3.9),(135.6,2.6),(137.6,1.5),(139.8,2.0),(141.8,3.0),(143.9,1.8),(145.8,2.9),
    (147.9,1.5),(149.4,3.9),(134.9,1.7),(138.4,2.3),(142.6,2.2),(146.6,1.9),(140.6,1.6),(144.6,3.7),(148.6,2.6),(136.4,3.8),
    (132.8,3.0),
]

singlino_b_low = [
    (128.4,0.87),(130.8,0.53),(131.0,1.04),(132.0,0.83),(133.0,1.04),(134.0,0.95),(135.3,0.79),(135.8,0.95),(136.4,1.02),(137.0,0.71),
    (137.6,0.85),(138.6,0.53),(139.0,0.56),(139.4,1.04),(139.8,0.78),(140.2,0.70),(140.8,0.81),(141.4,0.95),(141.8,0.53),(142.4,0.79),
    (142.8,1.11),(143.2,0.93),(143.4,0.61),(143.9,1.11),(144.5,0.71),(144.8,0.85),(145.4,0.95),(146.0,1.04),(146.2,0.76),(146.6,0.61),
    (147.2,0.93),(147.4,1.11),(147.8,0.83),(148.2,0.64),(148.7,1.11),(148.9,0.93),(149.3,0.66),(149.8,1.04),(134.6,0.59),(136.0,0.62),
    (129.1,0.59),(138.4,0.61),(141.0,0.64),(144.4,0.59),(148.6,0.53),(145.6,0.53),(133.5,0.68),(137.8,0.64),(142.0,0.90),(146.9,0.70),
    (149.5,0.58),(140.4,1.15),(136.8,0.88),(129.2,0.59),(131.4,0.89),
    (135.6,0.34),(136.6,0.35),(137.7,0.31),(138.6,0.42),(138.8,0.38),(139.0,0.23),(140.2,0.22),(141.2,0.27),(141.7,0.34),(142.8,0.33),
    (143.4,0.28),(144.1,0.30),(144.2,0.45),(144.5,0.24),(145.0,0.27),(145.6,0.36),(146.2,0.36),(146.6,0.34),(147.1,0.27),(147.4,0.23),
    (148.2,0.27),(148.6,0.28),(148.8,0.29),(146.3,0.20),(145.0,0.19),(141.4,0.185),(136.1,0.14),(138.6,0.16),(142.1,0.14),(143.4,0.16),
    (135.9,0.26),(137.3,0.28),(139.0,0.23),(139.3,0.22),(140.3,0.28),(140.9,0.25),(141.5,0.23),(141.8,0.20),(144.0,0.27),(144.6,0.28),
    (145.0,0.25),(146.9,0.20),(147.4,0.21),(148.1,0.27),(148.6,0.26),(149.3,0.27),(143.8,0.22),
    (132.3,0.048),(134.4,0.092),(136.2,0.14),(136.8,0.086),(136.5,0.051),(138.4,0.155),(138.5,0.127),(139.3,0.081),(140.1,0.135),(140.4,0.088),
    (141.0,0.092),(141.5,0.094),(141.8,0.113),(142.3,0.14),(139.6,0.060),(140.5,0.049),(141.3,0.040),(140.7,0.037),(140.4,0.031),(140.0,0.026),
    (141.0,0.028),(137.9,0.031),(138.2,0.029),(138.7,0.029),(140.5,0.019),(137.4,0.017),(138.7,0.0165),(136.1,0.0175),(140.2,0.014),(137.5,0.0105),
    (141.4,0.011),(142.8,0.092),(143.3,0.063),(143.8,0.062),(143.8,0.094),(143.8,0.108),(144.2,0.11),(144.9,0.11),(143.3,0.11),(144.7,0.047),
    (145.2,0.043),(145.5,0.041),(144.9,0.035),(145.9,0.035),(143.4,0.023),(143.7,0.0165),(146.0,0.021),(145.9,0.0135),(145.2,0.155),(146.0,0.127),
    (147.3,0.072),(147.7,0.086),(148.3,0.072),(148.7,0.086),(149.2,0.11),(148.4,0.049),(148.7,0.054),(147.3,0.036),(147.7,0.024),(148.1,0.022),
    (146.9,0.023),(147.4,0.019),(147.7,0.018),(149.1,0.017),(149.2,0.0115),(146.8,0.011),(149.8,0.029),(149.8,0.021),
]


def level_points(levels):
    """Turn (level, [positions]) entries into (position, level) pairs."""
    return [(x, lev) for lev, xs in levels for x in xs]


# ---------------- styling ----------------
GREEN, BLUE = "#006400", "#0000ff"
STAR = dict(marker="*", s=32, alpha=0.62, linewidth=0)

sns.set_theme(style="ticks")
plt.rcParams.update({
    "mathtext.fontset": "cm",
    "axes.linewidth": 1.0,
    "axes.edgecolor": "black",
    "xtick.color": "black", "ytick.color": "black",
    "legend.fontsize": 14,
})
plt.rcParams["font.family"] = ["Liberation Sans", "DejaVu Sans"]

fig = plt.figure(figsize=(12.01, 5.0), dpi=100)
ax_a = fig.add_axes([73 / 1201, 120 / 500, 459 / 1201, 367 / 500])
ax_b = fig.add_axes([709 / 1201, 120 / 500, 460 / 1201, 367 / 500])


def style_ticks(ax):
    ax.tick_params(which="both", direction="in", top=True, right=True, labelsize=15, width=1.0)
    ax.tick_params(which="major", length=6, pad=6)
    ax.tick_params(which="minor", length=3)


# ---- panel (a)
sa = np.array(singlino_a + level_points(singlino_a_core))
ba = np.array(bino_a_cluster + bino_a_arm + bino_a_dense + bino_a_right + bino_a_left + bino_a_over)
ax_a.axhline(dsph_limit, color="black", ls="--", lw=1.5, label="dSph limit", zorder=2)
sns.scatterplot(x=sa[:, 0], y=sa[:, 1], color=GREEN, label="singlino-like",
                ax=ax_a, zorder=3, legend=False, **STAR)
sns.scatterplot(x=ba[:, 0], y=ba[:, 1], color=BLUE, label="bino-like",
                ax=ax_a, zorder=3, legend=False, **STAR)
ax_a.set_xscale("log")
ax_a.set_yscale("log")
ax_a.set_xlim(1, 20)
ax_a.set_ylim(0.4, 4.0)
ax_a.xaxis.set_major_locator(FixedLocator([1, 2, 3, 5, 7, 10, 20]))
ax_a.xaxis.set_minor_locator(FixedLocator([4, 6, 8, 9]))
ax_a.xaxis.set_major_formatter(FuncFormatter(lambda v, p: rf"${v:g}$"))
ax_a.xaxis.set_minor_formatter(NullFormatter())
ax_a.yaxis.set_major_locator(FixedLocator([0.4, 0.5, 0.6, 0.7, 0.8, 1.0, 2.0, 3.0, 4.0]))
ax_a.yaxis.set_minor_locator(FixedLocator([0.9]))
ax_a.yaxis.set_major_formatter(FuncFormatter(lambda v, p: rf"${v:.1f}$"))
ax_a.yaxis.set_minor_formatter(NullFormatter())
style_ticks(ax_a)
ax_a.set_xlabel(r"$\langle\sigma v\rangle_{T_F}[10^{-26}\mathrm{cm}^3/\mathrm{s}]$", fontsize=16, labelpad=0)
ax_a.set_ylabel(r"$\langle\sigma_{ah}v\rangle_0[10^{-26}\mathrm{cm}^3/\mathrm{s}]$", fontsize=16, labelpad=0)
leg_a = ax_a.legend(loc="upper right", scatterpoints=3, fancybox=False, framealpha=1,
                    edgecolor="black", borderaxespad=0.5, handlelength=1.6, labelspacing=0.45)
leg_a.get_frame().set_linewidth(1.0)

# ---- panel (b)
bm = np.array(band_mass)
bands = [
    ("LUX", "black", "-", lux_low, lux_mid, lux_high),
    ("LUX 300d", "#ff00ff", "--", lux300_low, lux300_mid, lux300_high),
    ("Xenon1T", "#ffa500", "-.", xenon_low, xenon_mid, xenon_high),
    ("LZ", "#00ffff", ":", lz_low, lz_mid, lz_high),
]
for name, col, ls, lo, mid, hi in bands:
    lo, mid, hi = (np.array(v) * SIGMA_UNIT for v in (lo, mid, hi))
    ax_b.fill_between(bm, lo, hi, color=col, alpha=0.3, linewidth=0, zorder=1)
    ax_b.plot(bm, mid, color=col, ls=ls, lw=1.8, label=name, zorder=4)
    ax_b.plot(bm, lo, color=col, ls=ls, lw=1.8, zorder=4)
    ax_b.plot(bm, hi, color=col, ls=ls, lw=1.8, zorder=4)

sb = np.array(singlino_b_top + level_points(singlino_b_core) + singlino_b_mid + singlino_b_band + singlino_b_low)
bb = np.array(bino_b + level_points(bino_b_core))
sns.scatterplot(x=sb[:, 0], y=sb[:, 1] * SIGMA_UNIT, color=GREEN, label="singlino-like",
                ax=ax_b, zorder=3, legend=False, **STAR)
sns.scatterplot(x=bb[:, 0], y=bb[:, 1] * SIGMA_UNIT, color=BLUE, label="bino-like",
                ax=ax_b, zorder=3, legend=False, **STAR)
ax_b.set_yscale("log")
ax_b.set_xlim(95, 150)
ax_b.set_ylim(1e-48, 3.8e-45)
ax_b.xaxis.set_major_locator(FixedLocator([100, 110, 120, 130, 140, 150]))
ax_b.xaxis.set_major_formatter(FuncFormatter(lambda v, p: rf"${v:g}$"))
ax_b.yaxis.set_major_locator(FixedLocator([1e-48, 1e-47, 1e-46, 1e-45]))
ax_b.yaxis.set_minor_locator(LogLocator(base=10, subs=np.arange(2, 10)))
ax_b.yaxis.set_major_formatter(FuncFormatter(lambda v, p: rf"$10^{{{int(round(np.log10(v)))}}}$"))
ax_b.yaxis.set_minor_formatter(NullFormatter())
style_ticks(ax_b)
ax_b.set_xlabel(r"$m_{\tilde{\chi}}[\mathrm{GeV}]$", fontsize=16, labelpad=0)
ax_b.set_ylabel(r"$\sigma_p^{\mathrm{SI}}[\mathrm{cm}^2]$", fontsize=16, labelpad=0)
leg_b = ax_b.legend(loc="lower left", scatterpoints=3, fancybox=False, framealpha=1,
                    edgecolor="black", borderaxespad=0.5, handlelength=1.6, labelspacing=0.45)
leg_b.get_frame().set_linewidth(1.0)
leg_b.set_zorder(10)

fig.text(300 / 1201, 1 - 470 / 500, r"$(\mathrm{a})$", ha="center", va="center", fontsize=17)
fig.text(893 / 1201, 1 - 470 / 500, r"$(\mathrm{b})$", ha="center", va="center", fontsize=17)

fig.savefig("out.png", dpi=100)
